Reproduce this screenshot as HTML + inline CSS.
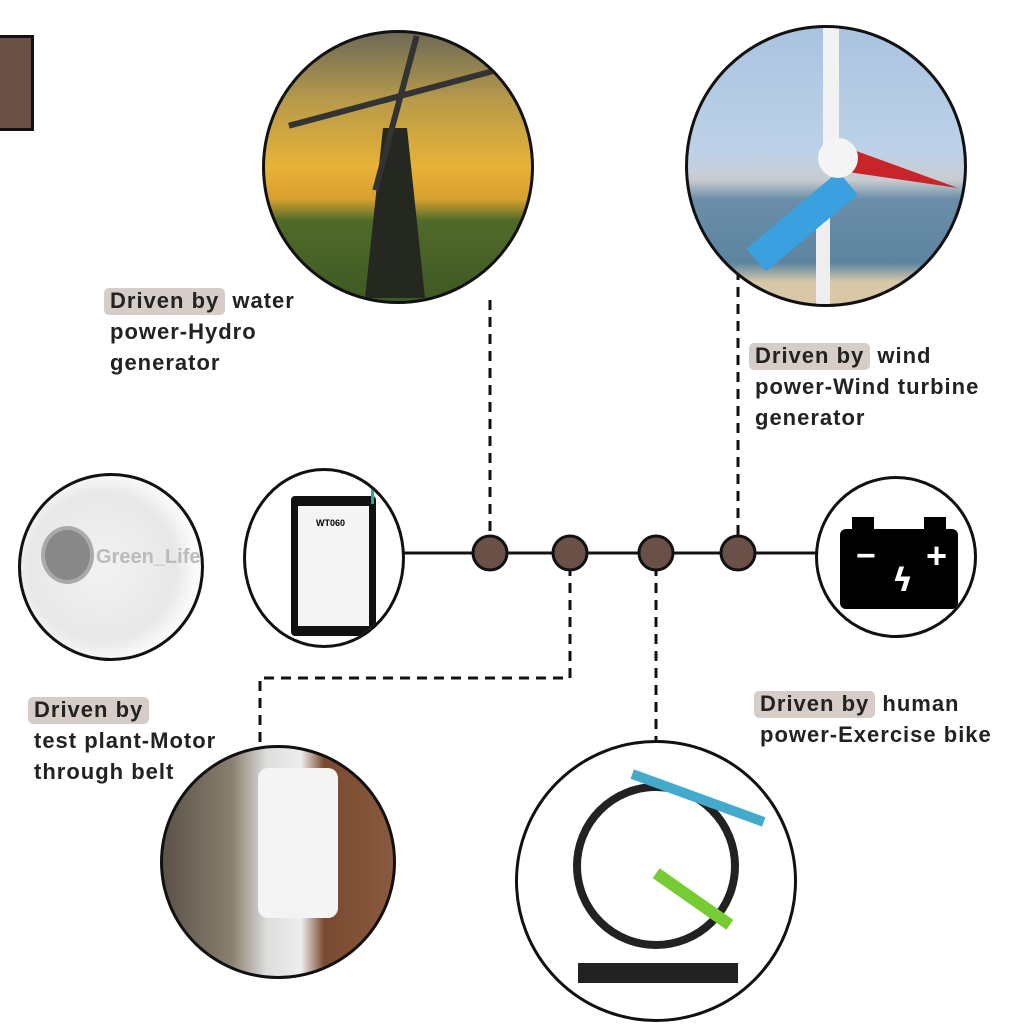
<!DOCTYPE html>
<html><head><meta charset="utf-8"><style>
html,body{margin:0;padding:0;background:#fff;}
body{width:1024px;height:1024px;position:relative;overflow:hidden;font-family:"Liberation Sans",sans-serif;}
.c{position:absolute;border:3px solid #111;border-radius:50%;overflow:hidden;box-sizing:border-box;}
.t{position:absolute;font-size:22px;line-height:31px;color:#222;letter-spacing:1px;font-weight:bold;}
.h{background:#d6cdc9;border-radius:5px;padding:0 6px 2px 6px;margin-left:-6px;}
</style></head><body>
<div style="position:absolute;left:-3px;top:35px;width:37px;height:96px;box-sizing:border-box;border:3px solid #111;background:#6b5048"></div>

<svg width="1024" height="1024" style="position:absolute;left:0;top:0">
<g stroke="#111" stroke-width="3" fill="none">
<line x1="400" y1="553" x2="820" y2="553"/>
<g stroke-dasharray="10,7">
<line x1="490" y1="300" x2="490" y2="540"/>
<line x1="738" y1="270" x2="738" y2="540"/>
<polyline points="570,566 570,678 260,678 260,748"/>
<line x1="656" y1="566" x2="656" y2="742"/>
</g></g>
<g fill="#6b5048" stroke="#111" stroke-width="3">
<circle cx="490" cy="553" r="17"/><circle cx="570" cy="553" r="17"/>
<circle cx="656" cy="553" r="17"/><circle cx="738" cy="553" r="17"/>
</g>
</svg>

<!-- windmill -->
<div class="c" style="left:262px;top:30px;width:272px;height:274px;background:linear-gradient(#6d6a55 0%,#b79a4a 25%,#e8b237 50%,#d8a030 62%,#4f6a2a 70%,#3f5a23 100%)">
<div style="position:absolute;left:100px;top:95px;width:60px;height:170px;background:#252820;clip-path:polygon(30% 0,70% 0,100% 100%,0 100%)"></div>
<div style="position:absolute;left:20px;top:60px;width:230px;height:6px;background:#333;transform:rotate(-15deg)"></div>
<div style="position:absolute;left:128px;top:0px;width:6px;height:160px;background:#333;transform:rotate(15deg)"></div>
</div>
<!-- wind turbine -->
<div class="c" style="left:685px;top:25px;width:282px;height:282px;background:linear-gradient(#a9c3e0 0%,#bdd2e8 45%,#c9ccd0 55%,#6b8ea8 62%,#5c84a0 85%,#d9c8a8 92%)">
<div style="position:absolute;left:128px;top:170px;width:14px;height:120px;background:#eee"></div>
<div style="position:absolute;left:40px;top:140px;width:120px;height:30px;background:#3aa0e0;transform:rotate(-40deg);transform-origin:right center"></div>
<div style="position:absolute;left:160px;top:120px;width:110px;height:40px;background:#c8252a;clip-path:polygon(0 0,100% 100%,0 60%)"></div>
<div style="position:absolute;left:135px;top:0;width:16px;height:130px;background:#f2f2f2"></div>
<div style="position:absolute;left:130px;top:110px;width:40px;height:40px;border-radius:50%;background:#f4f4f4"></div>
</div>
<!-- motor -->
<div class="c" style="left:18px;top:473px;width:186px;height:188px;background:radial-gradient(circle at 45% 50%,#f2f2f2 0,#e8e8e8 55%,#fafafa 70%)">
<div style="position:absolute;left:20px;top:50px;width:45px;height:50px;border-radius:50%;background:#888;border:4px solid #aaa"></div>
<div style="position:absolute;left:75px;top:70px;font:bold 20px 'Liberation Sans';color:#bbb">Green_Life</div>
</div>
<!-- controller -->
<div class="c" style="left:243px;top:468px;width:162px;height:180px;background:#fff">
<div style="position:absolute;left:45px;top:25px;width:85px;height:140px;background:#111;border-radius:4px"></div>
<div style="position:absolute;left:52px;top:35px;width:71px;height:120px;background:#f4f4f4"></div>
<div style="position:absolute;left:70px;top:47px;font:bold 9px 'Liberation Sans'">WT060</div>
<div style="position:absolute;left:95px;top:0;width:30px;height:30px;border:3px solid #2a9;border-radius:0 20px 0 0;border-left:none;border-bottom:none"></div>
</div>
<!-- battery -->
<div class="c" style="left:815px;top:476px;width:162px;height:162px;background:#fff">
<div style="position:absolute;left:22px;top:50px;width:118px;height:80px;background:#000;border-radius:6px"></div>
<div style="position:absolute;left:34px;top:38px;width:22px;height:12px;background:#000"></div>
<div style="position:absolute;left:106px;top:38px;width:22px;height:12px;background:#000"></div>
<div style="position:absolute;left:38px;top:58px;color:#fff;font:bold 34px 'Liberation Sans'">−</div>
<div style="position:absolute;left:108px;top:56px;color:#fff;font:bold 36px 'Liberation Sans'">+</div>
<div style="position:absolute;left:74px;top:82px;color:#fff;font:bold 32px 'DejaVu Sans'">ϟ</div>
</div>
<!-- motor lathe -->
<div class="c" style="left:160px;top:745px;width:236px;height:234px;background:linear-gradient(90deg,#5a5248 0,#8a8070 30%,#ddd 45%,#eee 60%,#7a4a30 70%,#8a5a40 100%)">
<div style="position:absolute;left:95px;top:20px;width:80px;height:150px;background:#f4f4f4;border-radius:10px"></div>
</div>
<!-- bike -->
<div class="c" style="left:515px;top:740px;width:282px;height:282px;background:#fff">
<div style="position:absolute;left:55px;top:40px;width:150px;height:150px;border-radius:50%;border:8px solid #222"></div>
<div style="position:absolute;left:130px;top:150px;width:90px;height:12px;background:#7c3;transform:rotate(35deg)"></div>
<div style="position:absolute;left:110px;top:50px;width:140px;height:10px;background:#4ac;transform:rotate(20deg)"></div>
<div style="position:absolute;left:60px;top:220px;width:160px;height:20px;background:#222"></div>
</div>

<div class="t" style="left:110px;top:285px"><span class="h">Driven by</span> water<br>power-Hydro<br>generator</div>
<div class="t" style="left:755px;top:340px"><span class="h">Driven by</span> wind<br>power-Wind turbine<br>generator</div>
<div class="t" style="left:34px;top:694px"><span class="h">Driven by</span><br>test plant-Motor<br>through belt</div>
<div class="t" style="left:760px;top:688px"><span class="h">Driven by</span> human<br>power-Exercise bike</div>
</body></html>
